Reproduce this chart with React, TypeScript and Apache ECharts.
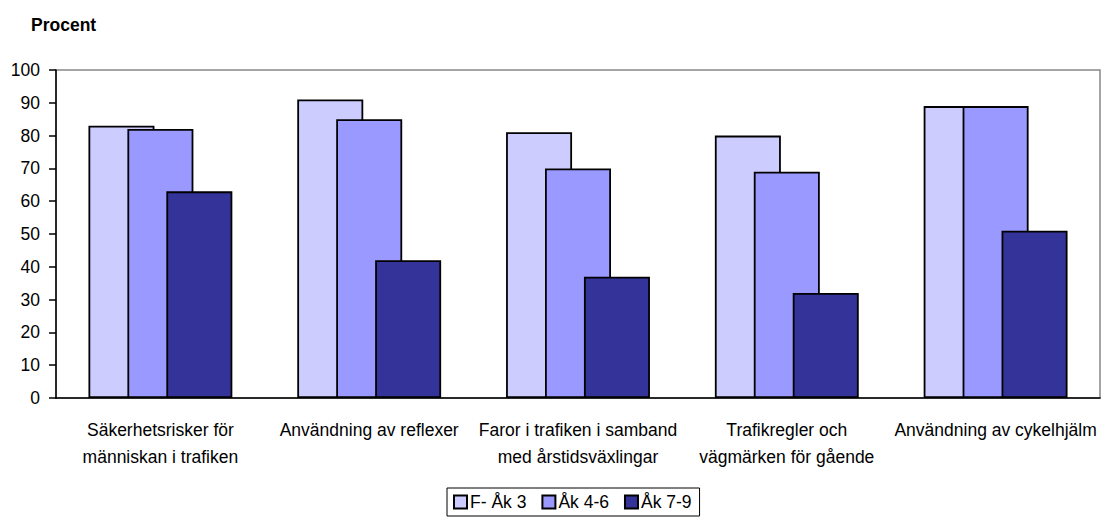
import React, { useEffect, useRef } from "react";
import * as echarts from "echarts";

const categories = [
  "Säkerhetsrisker för\nmänniskan i trafiken",
  "Användning av reflexer",
  "Faror i trafiken i samband\nmed årstidsväxlingar",
  "Trafikregler och\nvägmärken för gående",
  "Användning av cykelhjälm",
];
const seriesNames = ["F- Åk 3", "Åk 4-6", "Åk 7-9"];
const fAk3 = [83, 91, 81, 80, 89];
const ak46 = [82, 85, 70, 69, 89];
const ak79 = [63, 42, 37, 32, 51];
const colors = ["#CCCCFF", "#9999FF", "#333399"];
const yTicks = [0, 10, 20, 30, 40, 50, 60, 70, 80, 90, 100];

const FONT = "'Liberation Sans', Arial, sans-serif";

export default function App() {
  const ref = useRef<HTMLDivElement>(null);
  useEffect(() => {
    document.body.style.margin = "0";
    const chart = echarts.init(ref.current!, undefined, { renderer: "svg" });
    const values = [fAk3, ak46, ak79];
    chart.setOption({
      animation: false,
      backgroundColor: "#ffffff",
      textStyle: { fontFamily: FONT },
      title: {
        text: "Procent",
        left: 31,
        top: 16,
        padding: 0,
        textStyle: { fontFamily: FONT, fontSize: 17.5, fontWeight: "bold", color: "#000" },
      },
      legend: {
        data: seriesNames,
        left: 447,
        top: 488,
        padding: [5, 8, 5, 6],
        itemWidth: 13,
        itemHeight: 13,
        itemGap: 15,
        borderColor: "#000",
        borderWidth: 1,
        icon: "rect",
        textStyle: { fontFamily: FONT, fontSize: 17.5, color: "#000", padding: [0, 0, 0, -2] },
      },
      grid: {
        left: 56,
        top: 70,
        width: 1044,
        height: 328,
        show: true,
        borderColor: "#888",
        borderWidth: 1.5,
      },
      xAxis: {
        type: "category",
        data: categories,
        axisTick: { show: false },
        axisLine: { lineStyle: { color: "#000", width: 1.5 } },
        axisLabel: {
          interval: 0,
          margin: 18,
          fontFamily: FONT,
          fontSize: 17.5,
          lineHeight: 27,
          color: "#000",
          verticalAlign: "top",
        },
      },
      yAxis: {
        type: "value",
        min: yTicks[0],
        max: yTicks[yTicks.length - 1],
        interval: 10,
        splitLine: { show: false },
        axisLine: { show: true, lineStyle: { color: "#000", width: 1.5 } },
        axisTick: { show: true, length: 7, lineStyle: { color: "#000", width: 1.5 } },
        axisLabel: { margin: 16, fontFamily: FONT, fontSize: 17.5, color: "#000" },
      },
      series: seriesNames.map((name, i) => ({
        name,
        type: "bar",
        data: values[i],
        barWidth: 66,
        barGap: "-41%",
        itemStyle: { color: colors[i], borderColor: "#000", borderWidth: 1.8 },
      })),
    });
    return () => chart.dispose();
  }, []);
  return <div ref={ref} style={{ width: 1102, height: 523 }} />;
}
